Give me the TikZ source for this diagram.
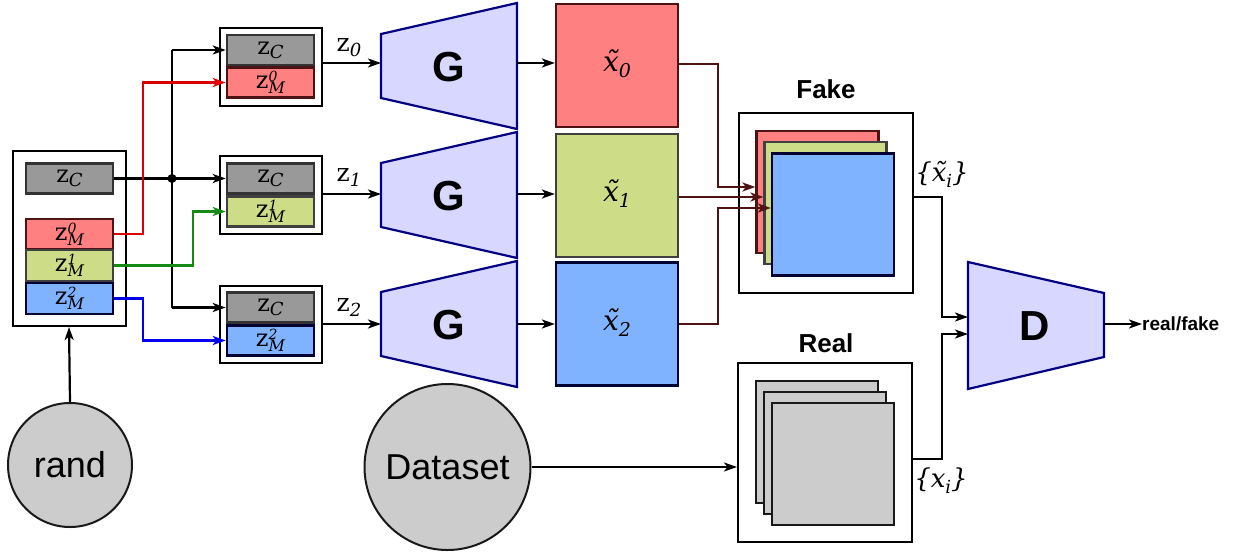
\documentclass[tikz,border=0pt]{standalone}
\usepackage{fontspec}
\setmainfont{DejaVu Serif}
\newfontfamily\sansf{Liberation Sans}
\usetikzlibrary{arrows.meta,calc}
\definecolor{zgray}{HTML}{999999}
\definecolor{zred}{HTML}{FF8080}
\definecolor{zgreen}{HTML}{CDDC87}
\definecolor{zblue}{HTML}{80B3FF}
\definecolor{gfill}{HTML}{D7D7FF}
\definecolor{gline}{HTML}{000080}
\definecolor{circ}{HTML}{CCCCCC}
\definecolor{dred}{HTML}{4D1313}
\definecolor{lred}{HTML}{DD0000}
\definecolor{lgreen}{HTML}{138A13}
\definecolor{lblue}{HTML}{0000EE}
\newcommand\zc{z\raisebox{-4pt}{\fontsize{18}{18}\selectfont\itshape C}}
\newcommand\zm[1]{z\makebox[0pt][l]{\raisebox{7pt}{\fontsize{14}{14}\selectfont\itshape #1}}\raisebox{-5pt}{\fontsize{16}{16}\selectfont\itshape M}}
\newcommand\zi[1]{z\raisebox{-5pt}{\fontsize{18}{18}\selectfont\itshape #1}}
\newcommand\xt[1]{{\itshape\~x}\raisebox{-6pt}{\fontsize{19}{19}\selectfont\itshape #1}}
\begin{document}
\begin{tikzpicture}[x=1pt,y=-1pt,
  cont/.style={draw=black,line width=2pt,fill=white,inner sep=0pt},
  zbox/.style={draw=#1,line width=2.6pt,inner sep=0pt,minimum width=87pt,minimum height=30pt,font=\fontsize{24}{24}\selectfont},
  card/.style={draw=#1,line width=2.2pt,inner sep=0pt,minimum width=122pt,minimum height=122pt},
  conn/.style={line width=2.2pt,-{Stealth[length=13pt,width=9pt,inset=3.5pt]}},
  plain/.style={line width=2.2pt},
  trap/.style={draw=gline,fill=gfill,line width=2.2pt,line join=miter},
  big/.style={font=\sansf\bfseries\fontsize{42}{42}\selectfont},
  circle node/.style={circle,draw=black!90,line width=2pt,fill=circ,inner sep=0pt,font=\sansf\fontsize{36}{36}\selectfont},
  lab/.style={font=\fontsize{25}{25}\selectfont,inner sep=0pt}
]
\useasboundingbox (0,0) rectangle (1240,552);

% left container
\node[cont,minimum width=113pt,minimum height=175pt] (L) at (69,238.5) {};
\node[zbox=black!80,fill=zgray] (LzC) at (69.5,178.5) {\zc};
\node[zbox=dred,fill=zred] (Lm0) at (69.5,234) {\zm{0}};
\node[zbox=black!75,fill=zgreen,minimum height=31pt] (Lm1) at (69.5,265.5) {\zm{1}};
\node[zbox=black!80!blue,fill=zblue,minimum height=31pt] (Lm2) at (69.5,298.5) {\zm{2}};

% middle containers
\node[cont,minimum width=102pt,minimum height=78pt] (C1) at (270.5,66.5) {};
\node[zbox=black!80,fill=zgray] (c1z) at (270.5,50) {\zc};
\node[zbox=dred,fill=zred] (c1m) at (270.5,82.5) {\zm{0}};
\node[cont,minimum width=102pt,minimum height=78pt] (C2) at (270.5,195) {};
\node[zbox=black!80,fill=zgray] (c2z) at (270.5,178.5) {\zc};
\node[zbox=black!75,fill=zgreen] (c2m) at (270.5,211.5) {\zm{1}};
\node[cont,minimum width=102pt,minimum height=77pt] (C3) at (270.5,324) {};
\node[zbox=black!80,fill=zgray] (c3z) at (270.5,307.5) {\zc};
\node[zbox=black!80!blue,fill=zblue] (c3m) at (270.5,340.5) {\zm{2}};

% junction and routing coordinates
\coordinate (J) at (172,178.5);
\coordinate (rx) at (143,0);
\coordinate (gx) at (193,0);
\draw[plain] (LzC.east) -- (J);
\fill (J) circle (4.5pt);
\draw[conn] (J) -- (c2z.west);
\draw[plain] (J |- c1z.west) -- (J |- c3z.west);
\draw[conn] (J |- c1z.west) -- (c1z.west);
\draw[conn] (J |- c3z.west) -- (c3z.west);
\draw[conn,lred] (Lm0.east) -| (rx |- c1m.west) -- (c1m.west);
\draw[conn,lgreen] (Lm1.east) -| (gx |- c2m.west) -- (c2m.west);
\draw[conn,lblue] (Lm2.east) -| (rx |- c3m.west) -- (c3m.west);

% rand
\node[circle node,minimum size=124pt] (rand) at (70,465) {rand};
\draw[conn] (rand.north) -- (L.south);

% G trapezoids
\draw[trap] (381,34) -- (517,3) -- (517,129) -- (381,98) -- cycle;
\draw[trap] (381,163) -- (517,132) -- (517,258) -- (381,227) -- cycle;
\draw[trap] (381,292) -- (517,261) -- (517,387) -- (381,356) -- cycle;
\node[big] (G1) at (449,67) {G};
\node[big] (G2) at (449,196) {G};
\node[big] (G3) at (449,325) {G};
\coordinate (G1l) at (381,63); \coordinate (G1r) at (517,63);
\coordinate (G2l) at (381,194); \coordinate (G2r) at (517,194);
\coordinate (G3l) at (381,324); \coordinate (G3r) at (517,324);

\draw[conn] (C1.east |- G1l) -- (G1l);
\draw[conn] (C2.east |- G2l) -- (G2l);
\draw[conn] (C3.east |- G3l) -- (G3l);
\node[lab] (z0) at (349,48) {\zi{0}};
\node[lab] (z1) at (349,178) {\zi{1}};
\node[lab] (z2) at (349,308) {\zi{2}};

% generated samples
\node[card=dred,fill=zred,minimum height=123pt] (X0) at (617,65.5) {};
\node[card=black!75,fill=zgreen,minimum height=123pt] (X1) at (617,195.5) {};
\node[card=black!80!blue,fill=zblue,minimum height=123pt] (X2) at (617,324) {};
\node[lab,font=\fontsize{28}{28}\selectfont] at (617,64) {\xt{0}};
\node[lab,font=\fontsize{28}{28}\selectfont] at (617,194) {\xt{1}};
\node[lab,font=\fontsize{28}{28}\selectfont] at (617,323) {\xt{2}};
\draw[conn] (G1r) -- (X0.west |- G1r);
\draw[conn] (G2r) -- (X1.west |- G2r);
\draw[conn] (G3r) -- (X2.west |- G3r);

% Fake
\node[cont,minimum width=174pt,minimum height=180pt] (Fake) at (826,203) {};
\node[card=dred,fill=zred] (F0) at (817.5,192) {};
\node[card=black!75,fill=zgreen] (F1) at (825.5,203) {};
\node[card=black!80!blue,fill=zblue] (F2) at (833,214.5) {};
\node[font=\sansf\bfseries\fontsize{26}{26}\selectfont] (fl) at (826,89) {Fake};
\coordinate (dx) at (718,0);
\coordinate (y0) at (0,187);
\coordinate (y1) at (0,197);
\coordinate (y2) at (0,208);
\draw[conn,dred] (X0.east |- 0,64) -| (dx |- y0) -- (F0.west |- y0);
\draw[conn,dred] (X1.east |- y1) -- (F1.west |- y1);
\draw[conn,dred] (X2.east |- G3r) -| (dx |- y2) -- (F2.west |- y2);

% Real
\node[cont,minimum width=174pt,minimum height=179pt] (Real) at (825,452.5) {};
\node[card=black!90,fill=circ] (R0) at (817,442) {};
\node[card=black!90,fill=circ] (R1) at (825,453) {};
\node[card=black!90,fill=circ] (R2) at (833,464) {};
\node[font=\sansf\bfseries\fontsize{26}{26}\selectfont] (rl) at (826,343) {Real};

% Dataset
\node[circle node,minimum size=166pt] (data) at (447.5,467) {Dataset};
\draw[conn] (data.east) -- (Real.west |- data.east);

% D
\draw[trap] (968,262) -- (1104,293) -- (1104,357) -- (968,389) -- cycle;
\node[big] (D) at (1035,326) {D};
\coordinate (Din1) at (968,317);
\coordinate (Din2) at (968,334);
\coordinate (Dout) at (1104,324);
\coordinate (mx) at (942,0);
\draw[conn] (Fake.east |- y1) -| (mx |- Din1) -- (Din1);
\draw[conn] (Real.east |- 0,459) -| (mx |- Din2) -- (Din2);
\node[font=\sansf\bfseries\fontsize{19}{19}\selectfont,anchor=west,inner sep=0pt] (rf) at (1142,324) {real/fake};
\draw[conn] (Dout) -- (rf.west);

\node[lab,font=\fontsize{26}{26}\selectfont] (setf) at (942,174) {\itshape\{\~x\raisebox{-6pt}{\fontsize{18}{18}\selectfont i}\}};
\node[lab,font=\fontsize{26}{26}\selectfont] (setr) at (941,481) {\itshape\{x\raisebox{-6pt}{\fontsize{18}{18}\selectfont i}\}};
\end{tikzpicture}
\end{document}
